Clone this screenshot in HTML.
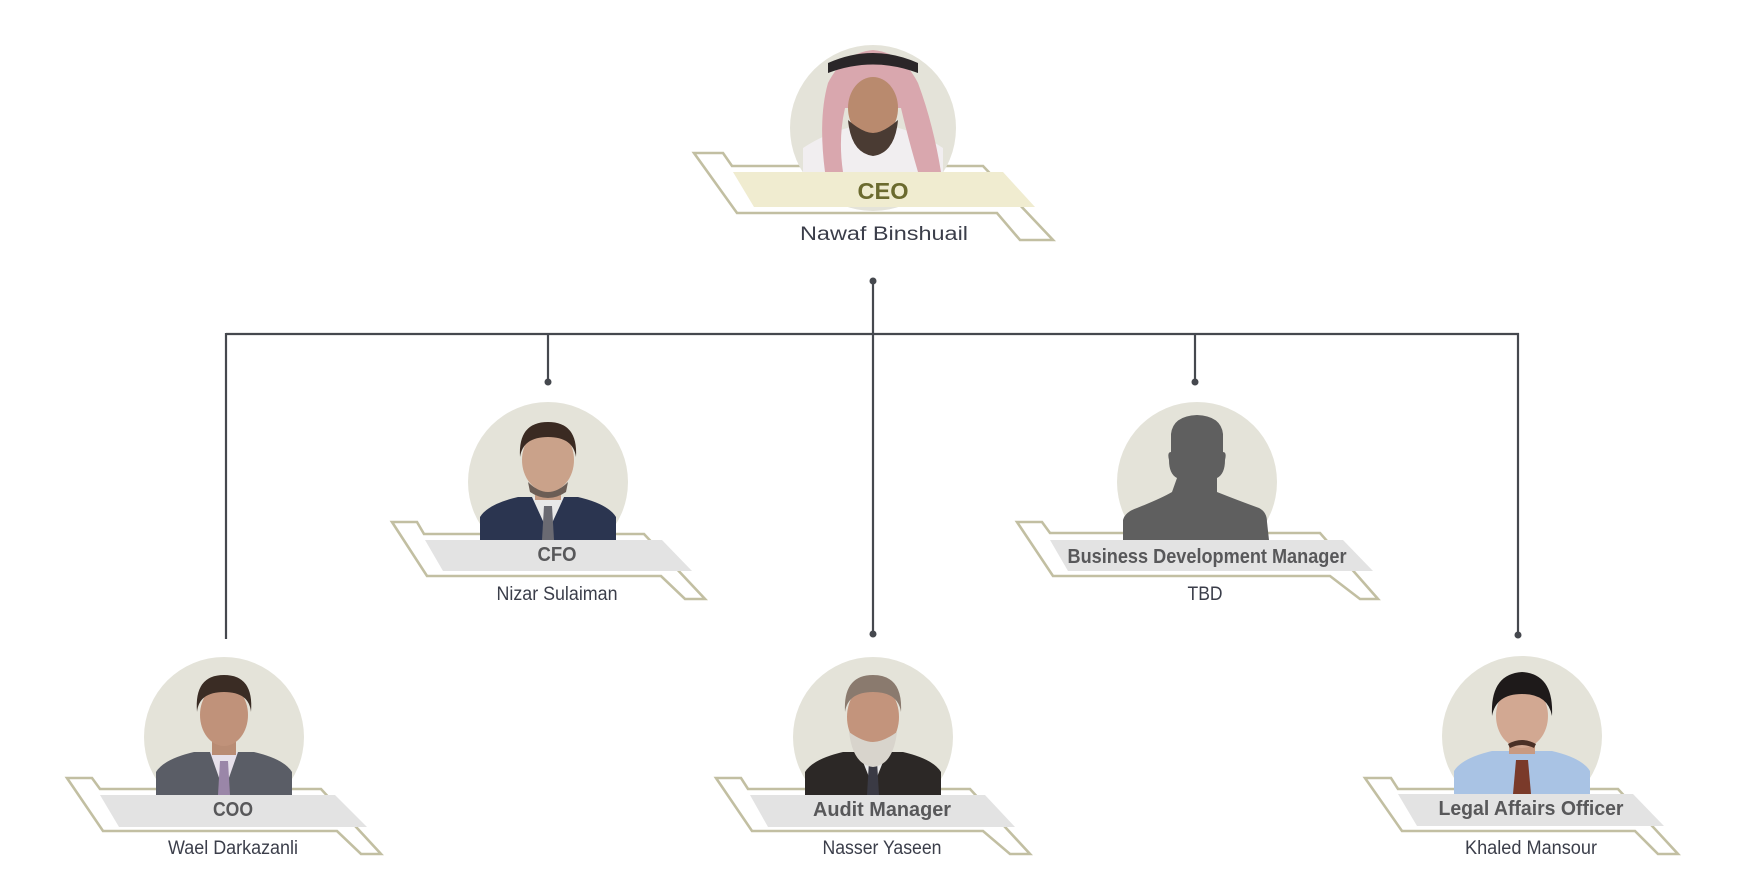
<!DOCTYPE html>
<html><head><meta charset="utf-8"><style>
html,body{margin:0;padding:0;background:#fff;width:1748px;height:895px;overflow:hidden}
svg{display:block}
.t{font-family:"Liberation Sans",sans-serif;font-weight:bold;fill:#58585a;font-size:20px;text-anchor:middle}
.n{font-family:"Liberation Sans",sans-serif;fill:#3b3e4a;font-size:19px;text-anchor:middle}
.o{fill:none;stroke:#c2bfa2;stroke-width:2.6}
.b{fill:#e3e3e3}
.c{fill:#e4e3d9}
</style></head><body>
<svg width="1748" height="895" viewBox="0 0 1748 895" xmlns="http://www.w3.org/2000/svg">
<defs>
<clipPath id="cs"><circle cx="0" cy="0" r="80"/><rect x="-68" y="20" width="136" height="38"/></clipPath>
<clipPath id="cb"><circle cx="0" cy="0" r="83"/><rect x="-70" y="20" width="140" height="24"/></clipPath>
</defs>

<!-- connectors -->
<g stroke="#45484e" stroke-width="2.2" fill="none">
<line x1="226" y1="334" x2="1519" y2="334"/>
<line x1="873" y1="281" x2="873" y2="634"/>
<line x1="226" y1="333" x2="226" y2="639"/>
<line x1="548" y1="333" x2="548" y2="382"/>
<line x1="1195" y1="333" x2="1195" y2="382"/>
<line x1="1518" y1="333" x2="1518" y2="635"/>
</g>
<g fill="#45484e">
<circle cx="873" cy="281" r="3.5"/><circle cx="873" cy="634" r="3.5"/>
<circle cx="548" cy="382" r="3.5"/><circle cx="1195" cy="382" r="3.5"/>
<circle cx="1518" cy="635" r="3.5"/>
</g>

<!-- CEO -->
<g transform="translate(873,128)">
<polygon class="o" points="-179,25 -150,25 -141,38 110,38 180,112 147,112 124,85 -136,85"/>
<circle class="c" r="83"/>
<g clip-path="url(#cb)">
<path d="M-70,44 L-70,20 Q-40,0 0,-5 Q40,0 70,20 L70,44Z" fill="#f1eef0"/>
<path d="M-48,44 Q-55,-10 -45,-45 Q-30,-75 0,-78 Q30,-75 45,-45 Q60,-5 68,44 L45,44 Q35,10 28,-20 L-28,-20 Q-35,10 -30,44Z" fill="#d9a7ae"/>
<ellipse cx="0" cy="-20" rx="25" ry="31" fill="#b98a6e"/>
<path d="M-25,-8 Q-22,25 0,28 Q22,25 25,-8 Q10,5 0,5 Q-10,5 -25,-8Z" fill="#4a3b33"/>
<path d="M-45,-65 Q0,-85 45,-65 L45,-55 Q0,-72 -45,-55Z" fill="#2a2628"/>
</g>
<polygon points="-140,44 130,44 162,79 -119,79" fill="#f0ecd0"/>
<text x="10" y="71" font-family="Liberation Sans,sans-serif" font-weight="bold" font-size="23" fill="#6b6a2e" text-anchor="middle" textLength="51" lengthAdjust="spacingAndGlyphs">CEO</text>
<text x="11" y="112" class="n" font-size="22" textLength="168" lengthAdjust="spacingAndGlyphs">Nawaf Binshuail</text>
</g>

<!-- CFO -->
<g transform="translate(548,482)">
<polygon class="o" points="-156,40 -131,40 -124,52 96,52 157,117 137,117 113,94 -121,94"/>
<circle class="c" r="80"/>
<g clip-path="url(#cs)">
<path d="M-68,58 L-68,35 Q-60,22 -30,15 L30,15 Q60,22 68,35 L68,58Z" fill="#2b3550"/>
<path d="M-16,15 L16,15 L0,50Z" fill="#e8e8e8"/>
<path d="M-4,24 L4,24 L6,58 L-6,58Z" fill="#6a6a72"/>
<rect x="-13" y="-2" width="26" height="20" fill="#c49a82"/>
<ellipse cx="0" cy="-22" rx="26" ry="32" fill="#caa28a"/>
<path d="M-20,0 Q0,20 20,0 L18,10 Q0,22 -18,10Z" fill="#6b5d55"/>
<path d="M-28,-25 Q-30,-60 0,-60 Q30,-60 28,-25 Q25,-45 0,-45 Q-25,-45 -28,-25Z" fill="#3a2a22"/>
</g>
<polygon class="b" points="-123,58 114,58 144,89 -105,89"/>
<text x="9" y="79" class="t" textLength="39" lengthAdjust="spacingAndGlyphs">CFO</text>
<text x="9" y="118" class="n" textLength="121" lengthAdjust="spacingAndGlyphs">Nizar Sulaiman</text>
</g>

<!-- BDM -->
<g transform="translate(1197,482)">
<polygon class="o" points="-180,40 -155,40 -147,51 123,51 181,117 163,117 133,94 -144,94"/>
<circle class="c" r="80"/>
<path d="M-74,58 L-74,38 Q-72,30 -60,26 Q-35,16 -25,10 L-20,-4 Q-28,-8 -28,-22 Q-30,-30 -26,-30 L-26,-48 Q-24,-66 0,-67 Q24,-66 26,-48 L26,-30 Q30,-30 28,-22 Q28,-8 20,-4 L20,10 Q40,18 62,26 Q70,30 70,40 L72,58Z" fill="#5f5f5f"/>
<polygon class="b" points="-147,58 146,58 176,89 -129,89"/>
<text x="10" y="81" class="t" textLength="279" lengthAdjust="spacingAndGlyphs">Business Development Manager</text>
<text x="8" y="118" class="n" textLength="35" lengthAdjust="spacingAndGlyphs">TBD</text>
</g>

<!-- COO -->
<g transform="translate(224,737)">
<polygon class="o" points="-157,41 -132,41 -124,52 97,52 157,117 137,117 113,94 -121,94"/>
<circle class="c" r="80"/>
<g clip-path="url(#cs)">
<path d="M-68,58 L-68,35 Q-60,22 -30,15 L30,15 Q60,22 68,35 L68,58Z" fill="#5a5d66"/>
<path d="M-14,15 L14,15 L0,55Z" fill="#e6e0ea"/>
<path d="M-4,24 L4,24 L6,58 L-6,58Z" fill="#9a86a8"/>
<rect x="-12" y="-2" width="24" height="20" fill="#b98c74"/>
<ellipse cx="0" cy="-22" rx="24" ry="31" fill="#c0927a"/>
<path d="M-27,-25 Q-30,-62 0,-62 Q30,-62 27,-25 Q25,-45 0,-45 Q-25,-45 -27,-25Z" fill="#3a2c24"/>
</g>
<polygon class="b" points="-124,58 111,58 143,90 -105,90"/>
<text x="9" y="79" class="t" textLength="40" lengthAdjust="spacingAndGlyphs">COO</text>
<text x="9" y="117" class="n" textLength="130" lengthAdjust="spacingAndGlyphs">Wael Darkazanli</text>
</g>

<!-- Audit -->
<g transform="translate(873,737)">
<polygon class="o" points="-157,41 -132,41 -125,52 97,52 157,117 137,117 110,94 -121,94"/>
<circle class="c" r="80"/>
<g clip-path="url(#cs)">
<path d="M-68,58 L-68,35 Q-60,22 -30,15 L30,15 Q60,22 68,35 L68,58Z" fill="#2c2826"/>
<path d="M-14,15 L14,15 L0,50Z" fill="#e8e8e8"/>
<path d="M-4,24 L4,24 L6,58 L-6,58Z" fill="#3a3a44"/>
<ellipse cx="0" cy="-20" rx="26" ry="34" fill="#c3947c"/>
<path d="M-24,-5 Q-20,28 0,30 Q20,28 24,-5 Q10,5 0,5 Q-10,5 -24,-5Z" fill="#d8d4cc"/>
<path d="M-28,-25 Q-30,-62 0,-62 Q30,-62 28,-25 Q25,-45 0,-45 Q-25,-45 -28,-25Z" fill="#8a7a6e"/>
</g>
<polygon class="b" points="-123,58 112,58 142,90 -105,90"/>
<text x="9" y="79" class="t" textLength="138" lengthAdjust="spacingAndGlyphs">Audit Manager</text>
<text x="9" y="117" class="n" textLength="119" lengthAdjust="spacingAndGlyphs">Nasser Yaseen</text>
</g>

<!-- Legal -->
<g transform="translate(1522,736)">
<polygon class="o" points="-157,42 -131,42 -124,53 96,53 156,118 136,118 113,95 -120,95"/>
<circle class="c" r="80"/>
<g clip-path="url(#cs)">
<path d="M-68,58 L-68,35 Q-60,22 -30,15 L30,15 Q60,22 68,35 L68,58Z" fill="#a9c3e4"/>
<path d="M-6,24 L6,24 L9,58 L-9,58Z" fill="#7a3a2a"/>
<rect x="-13" y="-2" width="26" height="20" fill="#c89a82"/>
<ellipse cx="0" cy="-20" rx="26" ry="32" fill="#d2a892"/>
<path d="M-14,8 Q0,0 14,8 L12,12 Q0,6 -12,12Z" fill="#4a3026"/>
<path d="M-30,-20 Q-32,-62 0,-64 Q32,-62 30,-20 Q26,-42 0,-42 Q-26,-42 -30,-20Z" fill="#1e1a1a"/>
</g>
<polygon class="b" points="-124,58 111,58 142,90 -105,90"/>
<text x="9" y="79" class="t" textLength="185" lengthAdjust="spacingAndGlyphs">Legal Affairs Officer</text>
<text x="9" y="118" class="n" textLength="132" lengthAdjust="spacingAndGlyphs">Khaled Mansour</text>
</g>
</svg>
</body></html>
